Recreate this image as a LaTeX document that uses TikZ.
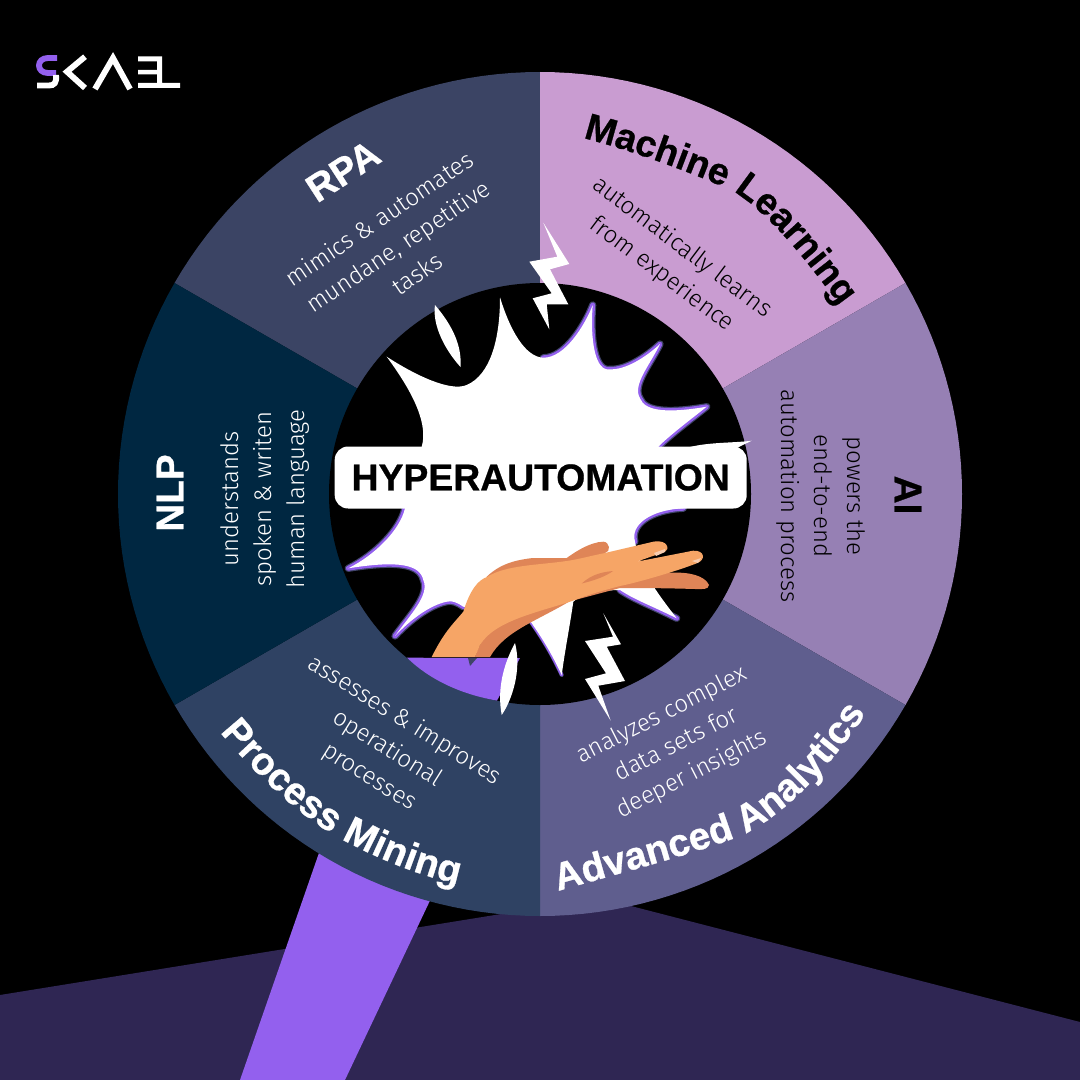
\documentclass[tikz,border=0pt]{standalone}
\usepackage{fontspec}
\setmainfont{Liberation Sans}
\newfontfamily\lightf{Fira Sans Light}
\newfontfamily\heavyf[UprightFont={* Bold},FakeBold=0.7]{Liberation Sans}
\definecolor{cRPA}{HTML}{3B4464}
\definecolor{cML}{HTML}{C99CD1}
\definecolor{cAI}{HTML}{9680B4}
\definecolor{cAA}{HTML}{5F5E8E}
\definecolor{cPM}{HTML}{2F4263}
\definecolor{cNLP}{HTML}{002741}
\definecolor{cBase}{HTML}{2F2653}
\definecolor{cPurple}{HTML}{9360EE}
\definecolor{cSkin}{HTML}{F6A566}
\definecolor{cShade}{HTML}{DF8557}
\definecolor{cPale}{HTML}{F8CDB0}
\definecolor{cDark}{HTML}{3F4468}
\usetikzlibrary{calc,decorations.text}
\tikzset{
  ttl/.style={font=\heavyf\fontsize{29}{32}\selectfont,align=center,inner sep=0pt},
  bdy/.style={font=\lightf\fontsize{18}{25}\selectfont,align=center,inner sep=0pt},
  wht/.style={text=white},
  blk/.style={text=black},
  outA/.style={draw=cDark,line width=5.4pt,line join=round,line cap=round},
  outB/.style={draw=cPurple,line width=3.6pt,line join=round,line cap=round},
}
\def\segA{(405,508.3) .. controls (400,530) and (375,555) .. (348.3,568.3) .. controls (400,560) and (420,565) .. (423.3,580) .. controls (430,595) and (410,615) .. (395,636) .. controls (410,620) and (430,605) .. (446.7,601.7) .. controls (452,600) and (458,603) .. (463.3,606.7)}
\def\segB{(543.3,357.7) .. controls (565,358) and (585,325) .. (592.7,305) .. controls (590,340) and (595,372) .. (610,369.3) .. controls (625,370) and (645,358) .. (660,344) .. controls (650,365) and (632,385) .. (640,398.3) .. controls (645,412) and (670,413) .. (706.7,406.7) .. controls (690,420) and (670,435) .. (658.3,446.7)}
\def\segC{(683.3,508.3) .. controls (650,510) and (630,525) .. (635,541.7)}
\def\segD{(676.7,618.3) .. controls (650,605) and (635,600) .. (620,590)}
\def\segE{(561.7,675) .. controls (550,650) and (540,635) .. (528.3,618.3)}
\begin{document}
\begin{tikzpicture}[x=0.75pt,y=-0.75pt]
\useasboundingbox (0,0) rectangle (1080,1080);
\fill[black] (0,0) rectangle (1080,1080);
% floor and arm
\fill[cBase] (0,995) -- (600,898) -- (1080,1022) -- (1080,1080) -- (0,1080) -- cycle;
\fill[cPurple] (320,850) -- (435,890) -- (345,1080) -- (240,1080) -- cycle;
% wheel
\coordinate (c) at (540,494);
\def\Rr{422}
\foreach \a/\b/\col in {90/150/cRPA,30/90/cML,-30/30/cAI,-90/-30/cAA,210/270/cPM,150/210/cNLP}{
  \fill[\col] (c) -- ($(c)+({\Rr*cos(\a)},{-\Rr*sin(\a)})$)
   \foreach \t in {1,...,30}{ -- ($(c)+({\Rr*cos(\a+(\b-\a)*\t/30)},{-\Rr*sin(\a+(\b-\a)*\t/30)})$) } -- cycle;
}
\fill[black] (c) circle[radius=211*0.75pt];
% burst outlines
\draw[outA] \segA; \draw[outA] \segB; \draw[outA] \segC; \draw[outA] \segD; \draw[outA,line width=3pt] \segE;
\draw[outB] \segA; \draw[outB] \segB; \draw[outB] \segC; \draw[outB] \segD; \draw[outB,line width=2.4pt] \segE;
% burst fill
\fill[white] (421.7,470) -- (421.7,446.7) .. controls (428,425) and (415,395) .. (386.7,356.7)
 .. controls (415,375) and (450,392) .. (466.7,385) .. controls (490,375) and (500,340) .. (500,297.3)
 .. controls (510,330) and (525,357) .. (543.3,357.7)
 .. controls (565,358) and (585,325) .. (592.7,305) .. controls (590,340) and (595,372) .. (610,369.3) .. controls (625,370) and (645,358) .. (660,344) .. controls (650,365) and (632,385) .. (640,398.3) .. controls (645,412) and (670,413) .. (706.7,406.7) .. controls (690,420) and (670,435) .. (658.3,446.7)
 -- (683.3,480) -- (683.3,508.3)
 .. controls (650,510) and (630,525) .. (635,541.7) .. controls (640,570) and (655,590) .. (676.7,618.3)
 .. controls (650,605) and (635,600) .. (620,590) .. controls (600,590) and (580,595) .. (573.3,601.7)
 .. controls (570,625) and (565,650) .. (561.7,675) .. controls (550,650) and (540,635) .. (528.3,618.3)
 -- (463.3,606.7) .. controls (458,603) and (452,600) .. (446.7,601.7) .. controls (430,605) and (410,620) .. (395,636)
 .. controls (410,615) and (430,595) .. (423.3,580) .. controls (420,565) and (400,560) .. (348.3,568.3)
 .. controls (375,555) and (400,530) .. (405,508.3) -- cycle;
\fill[white] (690,447) .. controls (710,442) and (735,443) .. (751.7,440.7) -- (736.7,448) -- (745,470) -- (690,470) -- cycle;
% sleeve
\fill[cPurple] (407,657.7) -- (520,658) -- (497,700.6) .. controls (465,695) and (432,682) .. (407,657.7) -- cycle;
\fill[cDark] (468,658) -- (477,658) -- (470,666) -- cycle;
% hand: shaded parts
\fill[cShade] (486.7,576.7) .. controls (500,564) and (515,560) .. (533,558) -- (566.7,558) .. controls (575,552) and (590,542) .. (603.3,541.7) .. controls (610,542) and (611,552) .. (605,553) -- (600,570) -- (490,590) -- cycle;
\fill[cShade] (475,657) .. controls (480,640) and (492,625) .. (510,620) -- (575,598) .. controls (540,620) and (505,630) .. (490,657) -- cycle;
\fill[cShade] (630,570) -- (673,572.7) .. controls (690,572) and (705,576) .. (709,585) .. controls (708,590) and (703,589) .. (695,589) .. controls (660,588) and (640,588) .. (620,588) -- (575,600) -- cycle;
% hand: main
\fill[cSkin] (431.7,657) .. controls (445,630) and (455,622) .. (463.3,611.7) .. controls (470,590) and (478,580) .. (487,577)
 .. controls (505,565) and (540,565) .. (566.7,561) .. controls (580,559) and (590,556) .. (605,553) -- (653.3,541.7)
 .. controls (668,539) and (670,550) .. (665,551.7) -- (636.7,561.7) -- (693,550.7)
 .. controls (705,550) and (706,560) .. (696.7,563.3) .. controls (680,570) and (640,582) .. (620,586)
 .. controls (605,590) and (590,594) .. (575,600) .. controls (540,612) and (495,620) .. (480,645) -- (475,657) -- cycle;
\fill[cShade] (581.7,583.5) .. controls (592,574) and (603,572) .. (613,571) .. controls (605,577) and (592,581) .. (581.7,583.5) -- cycle;
\fill[cPale] (654,553) -- (665,549) -- (665,552) -- (656,556) -- cycle;
\fill[cPale] (692,561) -- (701,558) -- (698,563) -- cycle;
% lightnings and sparks
\fill[white] (543.3,222.7) -- (557.3,256.7) -- (529.3,261.7) -- (551.7,293.3) -- (532.7,298.3) -- (549.3,329.3) -- (546.7,304.3) -- (568.3,304.3) -- (550,269.3) -- (569.3,264) -- cycle;
\fill[white] (603.3,613.3) -- (613,636.7) -- (585,641) -- (606,673.3) -- (585,679) -- (610.7,720.7) -- (598.3,685.7) -- (625,681) -- (606.7,646.7) -- (621,644.3) -- cycle;
\fill[white] (435,305) .. controls (452,325) and (462,345) .. (460.5,367) .. controls (445,350) and (432,325) .. (435,305) -- cycle;
\fill[white] (515,643) .. controls (522,670) and (512,700) .. (501.7,715) .. controls (497,690) and (503,665) .. (515,643) -- cycle;
% centre label
\node[fill=white,rounded corners=10pt,minimum width=412*0.75pt,minimum height=62*0.75pt,inner sep=0pt,font=\heavyf\fontsize{28}{30}\selectfont] (hyper) at (540.7,477.5) {HYPERAUTOMATION};
% section texts
\node[ttl,wht,rotate=33] (t1) at (343,171) {RPA};
\node[bdy,wht,rotate=34] (b1) at (398,246) {mimics \& automates\\mundane, repetitive\\tasks};
\path[decorate,decoration={text along path,text align={fit to path},text={|\heavyf\fontsize{28}{32}\selectfont\color{black}|Machine Learning}}] (583,138) .. controls (630,150) and (685,170) .. (733,191) .. controls (772,215) and (812,268) .. (840,306);
\node[bdy,blk,rotate=-37] (b2) at (672,261) {automatically learns\\from experience};
\node[ttl,blk,rotate=-90] (t3) at (908,495) {AI};
\node[bdy,blk,rotate=-90] (b3) at (821,496) {powers the\\end-to-end\\automation process};
\path[decorate,decoration={text along path,text align={fit to path},text={|\heavyf\fontsize{29}{32}\selectfont\color{white}|Advanced Analytics}}] (558,891) .. controls (620,873) and (680,858) .. (735,838) .. controls (785,818) and (835,760) .. (866,713);
\node[bdy,wht,rotate=27] (b4) at (677,745) {analyzes complex\\data sets for\\deeper insights};
\path[decorate,decoration={text along path,text align={fit to path},text={|\heavyf\fontsize{29}{32}\selectfont\color{white}|Process Mining}}] (220,732) .. controls (255,775) and (300,815) .. (334,835) .. controls (370,855) and (415,875) .. (458,884);
\node[bdy,wht,rotate=-32] (b5) at (387,749) {assesses \& improves\\operational\\processes};
\node[ttl,wht,rotate=90] (t6) at (170,493) {NLP};
\node[bdy,wht,rotate=90] (b6) at (265,499) {understands\\spoken \& writen\\human language};
% logo
\draw[cPurple,line width=4.4pt] (57,58) -- (48,58) .. controls (36,58) and (36,73) .. (48,73) -- (56,73);
\draw[white,line width=4.4pt] (37,85.5) -- (49,85.5) .. controls (54,85.5) and (57,83) .. (56,75);
\draw[white,line width=4.4pt] (85,56.7) -- (67,71.7) -- (85,88);
\draw[white,line width=4.4pt] (95,89) -- (113,58) -- (130,89);
\fill[white] (138,56.5) rectangle (162,61.5) (138,70) rectangle (158,74.5) (138,83) rectangle (180,88) (157,56.5) rectangle (162,88);
\end{tikzpicture}
\end{document}
